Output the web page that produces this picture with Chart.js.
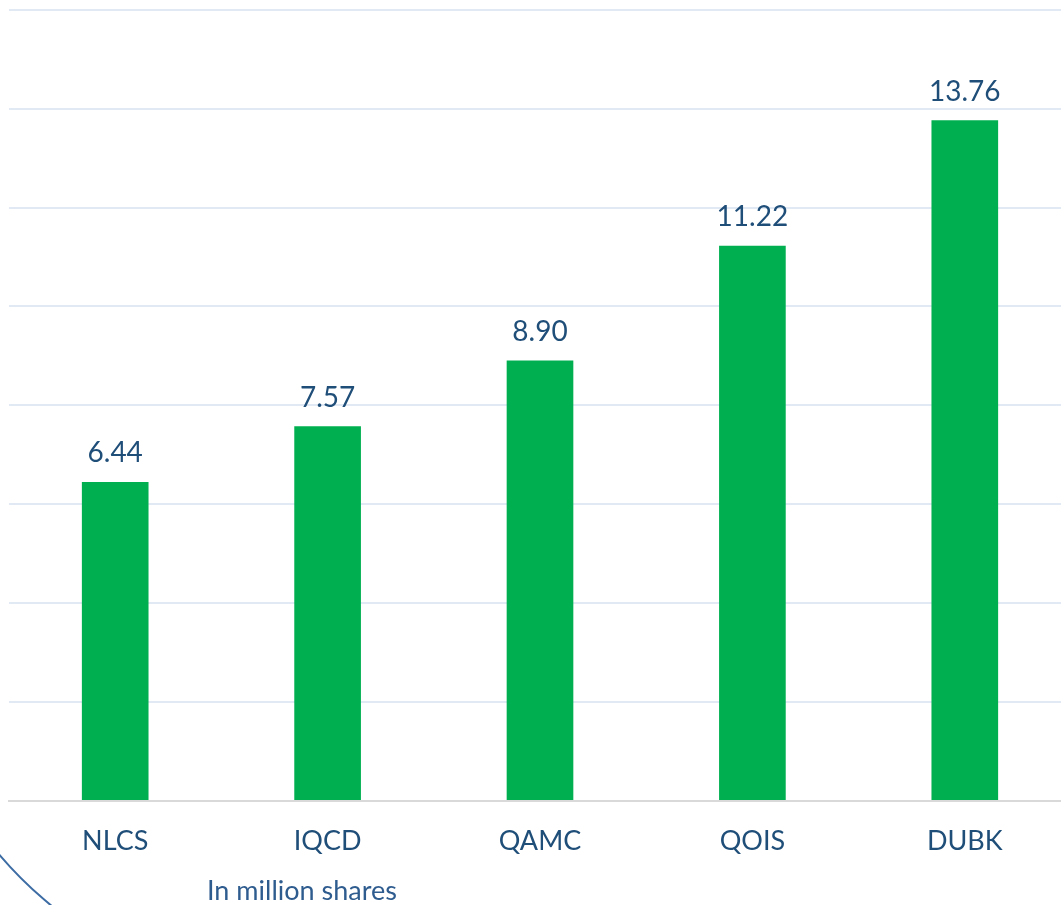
<!DOCTYPE html>
<html>
<head>
<meta charset="utf-8">
<script src="https://cdn.jsdelivr.net/npm/chart.js@4.4.1/dist/chart.umd.min.js"></script>
<style>
  html, body { margin: 0; padding: 0; background: #ffffff; overflow: hidden; }
  .wrap { position: relative; width: 1071px; height: 905px; }
</style>
</head>
<body>
<div class="wrap"><canvas id="chart"></canvas></div>
<script>
const categories = ['NLCS', 'IQCD', 'QAMC', 'QOIS', 'DUBK'];
const volumes = [6.44, 7.57, 8.90, 11.22, 13.76];
const unitNote = 'In million shares';

const textBlue = '#1f4e79';
const barGreen = '#00b050';

const valueLabels = {
  id: 'valueLabels',
  afterDatasetsDraw(chart) {
    const { ctx } = chart;
    const meta = chart.getDatasetMeta(0);
    ctx.save();
    ctx.font = '28px Lato';
    ctx.fillStyle = textBlue;
    ctx.textAlign = 'center';
    ctx.textBaseline = 'alphabetic';
    meta.data.forEach((bar, i) => {
      ctx.fillText(volumes[i].toFixed(2), bar.x, bar.y - 20);
    });
    ctx.restore();
  }
};

const decorations = {
  id: 'decorations',
  afterDraw(chart) {
    const { ctx } = chart;
    ctx.save();
    ctx.font = '27px Lato';
    ctx.fillStyle = '#2f5c8f';
    ctx.textAlign = 'left';
    ctx.textBaseline = 'alphabetic';
    ctx.fillText(unitNote, 207, 900);
    // decorative arc in the lower left corner
    ctx.beginPath();
    ctx.strokeStyle = '#3c6ca3';
    ctx.lineWidth = 2;
    ctx.arc(300, 600, 394, Math.PI * 0.6, Math.PI * 0.85);
    ctx.stroke();
    ctx.restore();
  }
};

new Chart(document.getElementById('chart'), {
  type: 'bar',
  data: {
    labels: categories,
    datasets: [{
      data: volumes,
      backgroundColor: barGreen,
      borderWidth: 0,
      barThickness: 66
    }]
  },
  options: {
    responsive: true,
    maintainAspectRatio: false,
    animation: false,
    layout: { padding: { left: 9, top: 10, right: 0, bottom: 24 } },
    plugins: {
      legend: { display: false },
      tooltip: { enabled: false }
    },
    scales: {
      x: {
        grid: { display: false, drawTicks: false },
        border: { display: true, color: '#d9d9d9', width: 2 },
        ticks: {
          color: textBlue,
          font: { family: 'Lato', size: 27 },
          padding: 24
        }
      },
      y: {
        min: 0,
        max: 16,
        ticks: { display: false, stepSize: 2 },
        grid: {
          drawTicks: false,
          lineWidth: 2,
          color: (c) => (c.tick && c.tick.value === 0 ? '#d9d9d9' : '#e1e9f4')
        },
        border: { display: false },
        afterFit(scale) { scale.width = 0; }
      }
    }
  },
  plugins: [valueLabels, decorations]
});
</script>
</body>
</html>
